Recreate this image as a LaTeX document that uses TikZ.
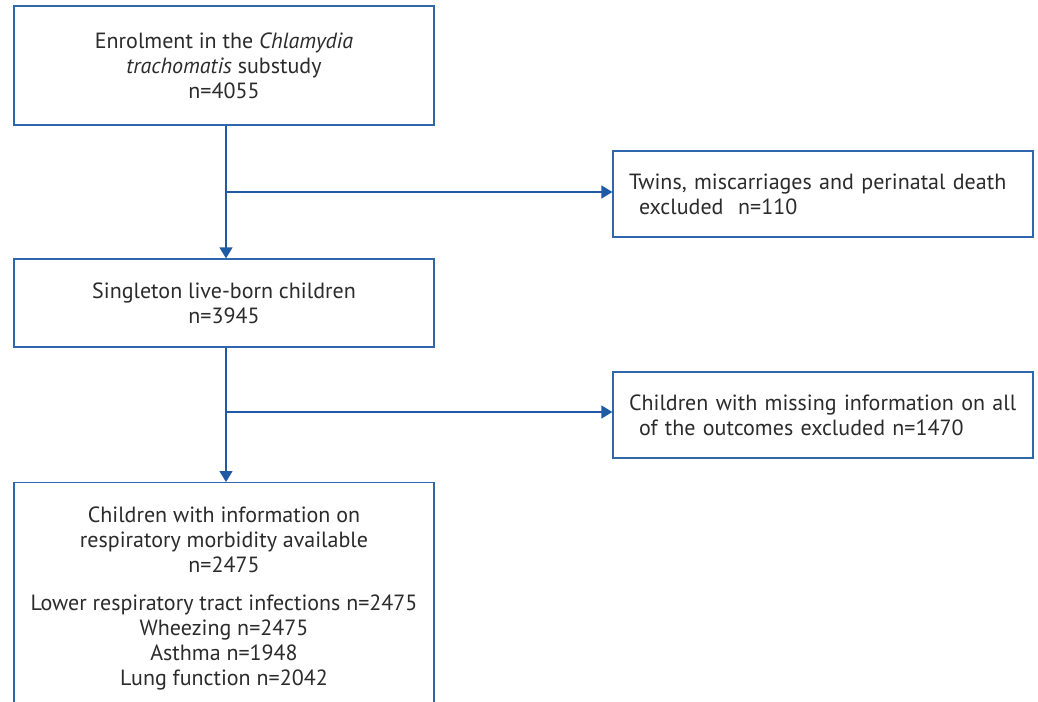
\documentclass[tikz,border=0pt]{standalone}
\usepackage{fontspec}
\setmainfont{PT Sans}
\usetikzlibrary{arrows.meta}
\definecolor{flowblue}{HTML}{1F5BA5}
\definecolor{boxblue}{HTML}{2F66AC}
\definecolor{txt}{HTML}{2B2B2B}
\tikzset{
  x=1pt, y=-1pt,
  boxnode/.style={draw=boxblue, line width=1.3pt, rectangle, text=txt,
    font=\fontsize{22}{25}\selectfont, align=center, inner sep=0pt},
  sidebox/.style={boxnode, minimum width=420pt, minimum height=86pt,
    text width=388pt, inner xsep=16pt, align=left},
  arr/.style={draw=flowblue, line width=1.5pt, -{Triangle[length=11pt,width=13pt]}},
  ln/.style={draw=flowblue, line width=1.5pt}
}
\begin{document}
\begin{tikzpicture}
\useasboundingbox (0,0) rectangle (1038,701);
\clip (0,0) rectangle (1038,701);
\fill[white] (0,0) rectangle (1038,701);
\node[boxnode, minimum width=420pt, minimum height=119pt] (b1) at (224,65.5)
  {Enrolment in the \textit{Chlamydia}\\\textit{trachomatis} substudy\\n=4055};
\node[sidebox] (b2) at (823,194)
  {Twins, miscarriages and perinatal death\\\hspace*{10pt}excluded\ \ n=110};
\node[boxnode, minimum width=420pt, minimum height=88pt] (b3) at (224,303)
  {Singleton live-born children\\n=3945};
\node[sidebox] (b4) at (823,415)
  {Children with missing information on all\\\hspace*{10pt}of the outcomes excluded n=1470};
\node[boxnode, minimum width=420pt, minimum height=232pt, anchor=north] (b5) at (224,482)
  {Children with information on\\respiratory morbidity available\\n=2475\\[13pt]
   Lower respiratory tract infections n=2475\\Wheezing n=2475\\Asthma n=1948\\Lung function n=2042};
\coordinate (j1) at (226,192);
\coordinate (j2) at (226,412);
\draw[arr] (b1.south -| j1) -- (b3.north -| j1);
\draw[arr] (j1) -- (b2.west |- j1);
\draw[arr] (b3.south -| j2) -- (b5.north -| j2);
\draw[arr] (j2) -- (b4.west |- j2);
\end{tikzpicture}
\end{document}
